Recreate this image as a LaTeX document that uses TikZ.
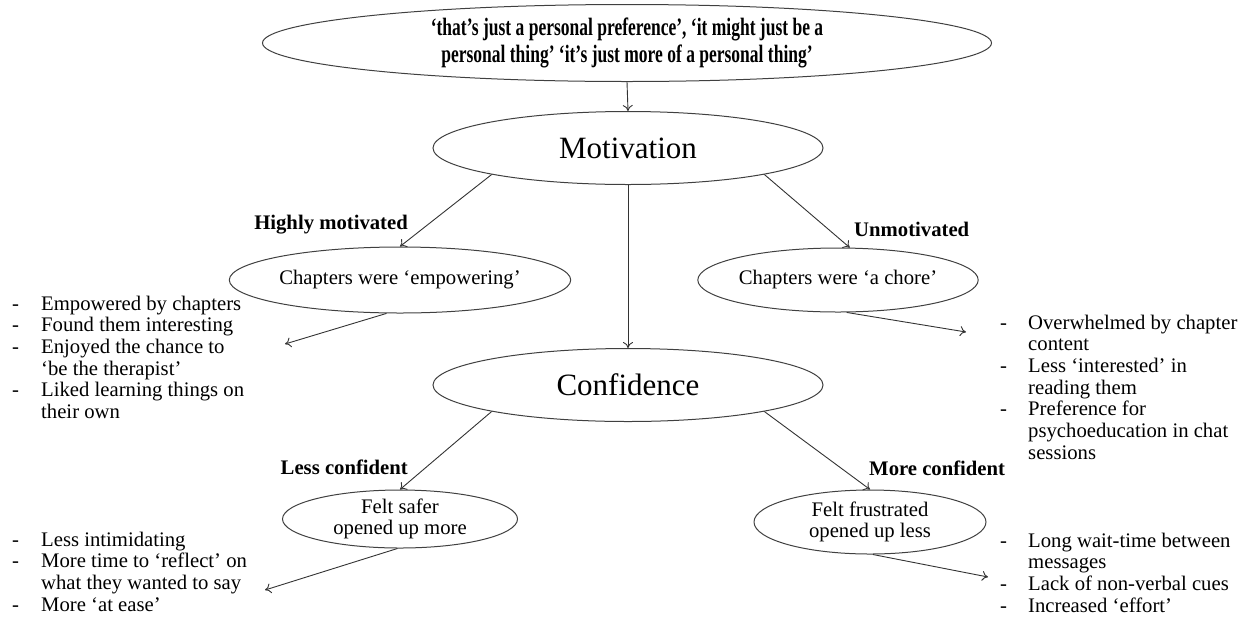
\documentclass[tikz,border=0pt]{standalone}
\usepackage{fontspec}
\setmainfont{Liberation Serif}
\newfontfamily\quotefont[FakeStretch=0.70]{Liberation Serif}
\usetikzlibrary{shapes.geometric,arrows.meta}
\begin{document}
\begin{tikzpicture}[x=1pt,y=-1pt,
  every node/.style={font=\fontsize{20.7}{21.7}\selectfont},
  bubble/.style={draw=black!75,line width=1pt,ellipse,inner sep=0pt,align=center},
  theme/.style={bubble,font=\fontsize{31}{34}\selectfont,minimum width=390pt,minimum height=73pt},
  tag/.style={font=\fontsize{20.7}{21.7}\selectfont\bfseries,inner sep=0pt},
  arr/.style={draw=black!80,line width=0.9pt,-{To[length=6pt,width=10pt]}},
  pts/.style={anchor=base west,inner sep=0pt}]
% Motivation and confidence themes, each split into two sub-themes
\useasboundingbox (0,0) rectangle (1247,622);
\node[bubble,minimum width=729pt,minimum height=77pt,font=\quotefont\bfseries\fontsize{25}{26.5}\selectfont] (quote) at (627,43) {‘that’s just a personal preference’, ‘it might just be a\\personal thing’ ‘it’s just more of a personal thing’};
\node[theme] (motiv) at (628,148) {Motivation};
\node[theme] (conf) at (628,385) {Confidence};
\node[bubble,minimum width=257pt,minimum height=66pt] (emp) at (400,280) {Chapters were ‘empowering’};
\node[bubble,minimum width=214pt,minimum height=64pt] (chore) at (838,280) {Chapters were ‘a chore’};
\node[bubble,minimum width=235pt,minimum height=58pt] (safer) at (400,519) {Felt safer\\opened up more};
\node[bubble,minimum width=232pt,minimum height=64pt] (frus) at (870,522) {Felt frustrated\\opened up less};
\node[tag,anchor=east] (high) at (408,225) {Highly motivated};
\node[tag,anchor=west] (unmot) at (854,229) {Unmotivated};
\node[tag,anchor=east] (less) at (408,467) {Less confident};
\node[tag,anchor=west] (more) at (869,468) {More confident};
\draw[arr] (quote.south) -- (motiv.north);
\draw[arr] (motiv.south) -- (conf.north);
\draw[arr] (motiv.191) -- (emp.north);
\draw[arr] (motiv.349) -- (chore.70);
\draw[arr] (conf.191) -- (safer.north);
\draw[arr] (conf.349) -- (frus.north);
% sub-theme points
\coordinate (empend) at (285,344);
\coordinate (choreend) at (966,332);
\coordinate (saferend) at (265,590);
\coordinate (frusend) at (988,577);
\draw[arr] (emp.248) -- (empend);
\draw[arr] (chore.285) -- (choreend);
\draw[arr] (safer.265) -- (saferend);
\draw[arr] (frus.275) -- (frusend);
\node[pts] (emplist) at (12,310) {\begin{tabular}[t]{@{}p{29pt}@{}l@{}}
 - & Empowered by chapters\\ - & Found them interesting\\ - & Enjoyed the chance to\\ & ‘be the therapist’\\ - & Liked learning things on\\ & their own\end{tabular}};
\node[pts] (chorelist) at (1000,329) {\begin{tabular}[t]{@{}p{28pt}@{}l@{}}
 - & Overwhelmed by chapter\\ & content\\ - & Less ‘interested’ in\\ & reading them\\ - & Preference for\\ & psychoeducation in chat\\ & sessions\end{tabular}};
\node[pts] (saferlist) at (12,546) {\begin{tabular}[t]{@{}p{29pt}@{}l@{}}
 - & Less intimidating\\ - & More time to ‘reflect’ on\\ & what they wanted to say\\ - & More ‘at ease’\end{tabular}};
\node[pts] (fruslist) at (1000,547) {\begin{tabular}[t]{@{}p{28pt}@{}l@{}}
 - & Long wait-time between\\ & messages\\ - & Lack of non-verbal cues\\ - & Increased ‘effort’\end{tabular}};
\end{tikzpicture}
\end{document}
